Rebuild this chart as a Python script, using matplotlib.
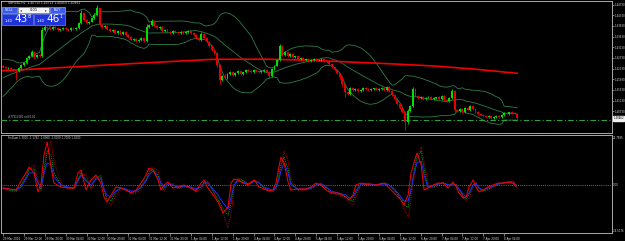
import numpy as np
import pandas as pd
import matplotlib
matplotlib.use("Agg")
import matplotlib.pyplot as plt
from matplotlib.patches import Rectangle

# GBPUSD H1, first visible bar 29 Mar 04:00, last bar 8 Apr 09:00
closes = [
    1.4239, 1.4235, 1.4235, 1.4231, 1.4228, 1.4224, 1.4235, 1.4246, 1.4254, 1.4273,
    1.4280, 1.4295, 1.4276, 1.4284, 1.4280, 1.4378, 1.4389, 1.4385, 1.4381, 1.4389,
    1.4385, 1.4378, 1.4381, 1.4385, 1.4381, 1.4378, 1.4385, 1.4381, 1.4385, 1.4404,
    1.4441, 1.4415, 1.4404, 1.4408, 1.4423, 1.4434, 1.4460, 1.4396, 1.4389, 1.4393,
    1.4381, 1.4374, 1.4378, 1.4366, 1.4374, 1.4363, 1.4370, 1.4359, 1.4351, 1.4340,
    1.4344, 1.4336, 1.4340, 1.4348, 1.4336, 1.4389, 1.4396, 1.4411, 1.4393, 1.4385,
    1.4389, 1.4374, 1.4378, 1.4370, 1.4366, 1.4374, 1.4370, 1.4366, 1.4370, 1.4366,
    1.4370, 1.4374, 1.4366, 1.4359, 1.4348, 1.4340, 1.4363, 1.4348, 1.4333, 1.4318,
    1.4303, 1.4291, 1.4246, 1.4190, 1.4205, 1.4198, 1.4213, 1.4220, 1.4209, 1.4216,
    1.4224, 1.4213, 1.4220, 1.4228, 1.4224, 1.4220, 1.4228, 1.4224, 1.4220, 1.4224,
    1.4228, 1.4220, 1.4205, 1.4231, 1.4243, 1.4265, 1.4318, 1.4284, 1.4295, 1.4280,
    1.4288, 1.4276, 1.4280, 1.4269, 1.4273, 1.4265, 1.4269, 1.4261, 1.4265, 1.4269,
    1.4265, 1.4265, 1.4269, 1.4261, 1.4258, 1.4250, 1.4239, 1.4228, 1.4216, 1.4201,
    1.4175, 1.4145, 1.4138, 1.4160, 1.4153, 1.4156, 1.4149, 1.4153, 1.4160, 1.4156,
    1.4153, 1.4156, 1.4160, 1.4153, 1.4156, 1.4160, 1.4153, 1.4164, 1.4149, 1.4134,
    1.4119, 1.4100, 1.4085, 1.4070, 1.4033, 1.4074, 1.4093, 1.4156, 1.4130, 1.4123,
    1.4126, 1.4119, 1.4123, 1.4126, 1.4119, 1.4123, 1.4126, 1.4119, 1.4130, 1.4115,
    1.4111, 1.4123, 1.4149, 1.4078, 1.4074, 1.4081, 1.4070, 1.4085, 1.4078, 1.4093,
    1.4081, 1.4070, 1.4063, 1.4059, 1.4055, 1.4051, 1.4055, 1.4048, 1.4051, 1.4055,
    1.4051, 1.4059, 1.4066, 1.4063, 1.4070, 1.4066, 1.4063, 1.40462,
]
first_open = 1.4243

# wick lengths in pips above / below the body
wick_up = [
    3, 2, 4, 3, 2, 3, 4, 5, 3, 4, 3, 6, 3, 4, 5, 11, 7, 4, 3, 5,
    3, 4, 2, 5, 3, 4, 3, 2, 4, 5, 11, 4, 3, 5, 4, 6, 11, 2, 4, 3,
    5, 3, 4, 2, 5, 3, 4, 3, 2, 4, 3, 5, 4, 3, 4, 10, 5, 8, 3, 4,
    3, 5, 2, 4, 3, 3, 4, 2, 3, 4, 3, 2, 4, 3, 5, 3, 6, 3, 2, 4,
    3, 4, 5, 3, 4, 6, 3, 4, 5, 3, 4, 3, 2, 4, 3, 3, 4, 2, 3, 4,
    3, 4, 5, 6, 4, 5, 7, 4, 5, 3, 4, 3, 2, 4, 3, 4, 3, 2, 3, 4,
    3, 4, 2, 3, 4, 3, 2, 4, 3, 2, 3, 4, 5, 3, 4, 3, 4, 3, 5, 3,
    4, 3, 2, 4, 3, 4, 3, 5, 3, 2, 3, 4, 3, 2, 4, 6, 5, 7, 4, 3,
    4, 3, 5, 3, 4, 3, 2, 4, 3, 5, 4, 3, 6, 4, 3, 4, 3, 5, 3, 4,
    3, 4, 3, 2, 3, 4, 3, 2, 3, 4, 3, 2, 4, 3, 2, 3, 4, 5,
]
wick_dn = [
    3, 4, 3, 2, 4, 34, 5, 3, 4, 3, 5, 4, 6, 3, 4, 2, 3, 4, 3, 4,
    4, 3, 5, 3, 2, 4, 3, 4, 3, 2, 3, 5, 4, 3, 2, 3, 2, 4, 5, 3,
    4, 3, 2, 5, 3, 4, 3, 4, 5, 3, 4, 3, 2, 4, 3, 3, 2, 3, 4, 5,
    3, 4, 3, 2, 4, 3, 3, 2, 4, 3, 2, 3, 4, 3, 4, 5, 3, 4, 5, 4,
    5, 4, 6, 15, 5, 4, 3, 5, 4, 3, 4, 3, 4, 3, 2, 3, 4, 3, 2, 3,
    4, 5, 6, 3, 3, 2, 3, 4, 3, 4, 3, 4, 3, 2, 3, 4, 3, 2, 4, 3,
    3, 2, 4, 3, 4, 3, 4, 5, 4, 6, 8, 19, 4, 3, 3, 4, 3, 2, 4, 3,
    3, 4, 3, 2, 3, 4, 3, 4, 3, 5, 4, 4, 5, 5, 30, 6, 4, 3, 4, 3,
    3, 4, 3, 2, 3, 4, 3, 2, 4, 3, 4, 3, 3, 8, 4, 3, 4, 3, 2, 4,
    3, 2, 4, 3, 3, 2, 3, 4, 3, 2, 3, 4, 3, 2, 4, 3, 2, 4,
]

# closes before the first visible bar (needed for the 20-bar bands)
warmup = [1.4140, 1.4133, 1.4150, 1.4160, 1.4155, 1.4172, 1.4183, 1.4195, 1.4190,
          1.4205, 1.4213, 1.4216, 1.4220, 1.4228, 1.4224, 1.4231, 1.4235, 1.4239, 1.4235]

# long moving average (red)
ma_bars = [0, 20, 40, 60, 80, 100, 115, 133, 150, 165, 180, 197]
ma_vals = [1.42253, 1.42358, 1.42467, 1.42575, 1.42677, 1.42684,
           1.42654, 1.42579, 1.42504, 1.42429, 1.42317, 1.42155]

price_ticks = [1.44730, 1.44330, 1.43930, 1.43530, 1.43130, 1.42730,
               1.42330, 1.41930, 1.41530, 1.41130, 1.40730]
bid = 1.40462
order_price = 1.40410

# oscillator sub-window
osc_bars = [0.0, 2.3, 5.0, 6.9, 8.8, 10.0, 11.9, 13.4, 14.6, 15.7, 16.9, 18.4, 19.5,
            22.2, 24.9, 27.2, 28.7, 29.9, 31.8, 33.7, 35.6, 37.5, 38.7, 39.8, 41.4,
            43.3, 45.2, 47.1, 49.0, 51.0, 52.9, 54.8, 55.9, 57.5, 59.4, 60.5, 61.7,
            63.2, 65.1, 67.0, 69.3, 72.0, 73.9, 75.9, 77.0, 78.5, 80.5, 82.4, 84.3,
            86.2, 87.4, 88.5, 90.0, 92.0, 93.9, 95.0, 96.2, 98.1, 100.0, 101.9, 103.4,
            104.6, 105.7, 106.5, 107.7, 109.2, 110.3, 113.0, 116.1, 118.0, 119.9,
            121.8, 123.8, 125.7, 128.4, 131.4, 132.6, 134.1, 135.2, 137.2, 140.2,
            142.9, 146.0, 147.9, 149.8, 151.3, 152.5, 153.6, 155.2, 156.3, 157.5,
            158.6, 160.2, 161.3, 162.8, 164.8, 166.7, 168.6, 170.5, 172.4, 173.6,
            174.7, 176.2, 177.4, 178.5, 180.1, 181.2, 182.4, 183.9, 185.8, 187.7,
            189.7, 191.6, 193.5, 195.4, 196.6]
osc_red = [-1.5, -2, -2.5, 2, 6, 9, 6, -3.5, 1, 15, 21.5, 9, 1,
           -1, -1.5, -1.5, 6, 7.5, -2.5, 2.5, 5, 1, -6, -8.5, -5,
           -1, -1.5, -2.5, -4, -2.5, 1, 5, 8.5, 7.5, 2.5, -2.5, 0,
           1.5, -1.5, -1, 0, -1.5, -3, 1, 2.5, -1.5, -5, -8.5, -14,
           -11, 1, 3, 2.5, 1, 0, 1.5, 2.5, -1, -2, -3, -2.5,
           1, 9, 14, 11, 1.5, -2.5, -2, -2, -1, 1,
           0, -2.5, -4, -4, -6, -7.5, -5, 0, 1, 0,
           0, 1, -1.5, -4, -6, -7.5, -10, -5, 6, 11.5,
           16, 10, -2.5, -1.5, 0, 1, 1, -1.5, 1.5, -1,
           -4, -6.5, -6, -1, 2.5, -1, -3.5, -2.5, -1, 0,
           1, 1, 1.5, 1, -1]
osc_blue = [-1.5, -2, -2.5, -1, 3, 6, 6, 1, -1, 6, 11, 10, 4,
            0, -1, -1.5, 2, 5, 2, 0, 3, 3, -2, -5, -6,
            -3, -1.5, -2, -3, -3, -1, 2, 5, 7, 4, 1, -1,
            0.5, 0, -1, -0.5, -1, -2, -1, 1, 1, -2, -5, -9,
            -12, -6, 0, 2, 1.5, 0.5, 1, 2, 1, -1, -2, -2.5,
            -1, 3, 7, 11, 6, 0, -2, -2, -1.5, 0,
            0.5, -1, -3, -4, -5, -6.5, -6, -3, 0.5, 0.5,
            0, 0.5, 0, -2, -4, -6, -8, -8, -2, 6,
            11, 12, 5, -1, -0.5, 0.5, 1, 0, 0.5, 0,
            -2, -4.5, -6, -4, 0, 0.5, -1.5, -2.5, -1.5, -0.5,
            0.5, 1, 1, 1, 0]
osc_green = [-1.5, -2.5, -3, 0, 4, 8, 8, 1, -2, 8, 17, 15, 6,
             0, -1.5, -1.5, 3, 6, 3, -1, 4, 4, -3, -7, -8,
             -3, -1.5, -2.5, -3.5, -3.5, -1, 3, 6, 8, 5, 0, -2,
             1, 0, -1.5, -0.5, -1.5, -2.5, -1, 1.5, 1, -3, -7, -12,
             -15, -9, 0, 3, 2, 0.5, 1, 2, 1, -1.5, -2.5, -3,
             -1.5, 5, 10, 14, 8, 1, -2.5, -2, -1.5, 0,
             0.5, -1.5, -3.5, -4.5, -6, -7.5, -8, -4, 0.5, 0.5,
             0, 1, 0, -2.5, -5, -7, -10, -11, -3, 7,
             14, 17, 8, -1, -1, 0.5, 1, 0, 0.5, 0,
             -2.5, -5.5, -7, -5, 0, 1, -2, -3, -2, -1,
             0.5, 1, 1.5, 1.5, 0]
osc_dred = [-2, -3, -3.5, -1, 3, 8, 10, 3, -3, 5, 16, 22, 12,
            1, -2, -2, 1, 6, 5, -2, 3, 5, -1, -8, -10,
            -5, -2, -2.5, -4, -4.5, -2, 2, 6, 9, 7, 2, -3,
            0, 1, -2, -1, -1.5, -3.5, -2, 1, 2, -3, -8, -14,
            -21.5, -14, -2, 3.5, 2.5, 1, 1, 2.5, 1.5, -2, -3, -3.5,
            -2, 2, 8, 17, 12, 3, -3, -2.5, -2, -0.5,
            1, -1, -4, -5, -7, -9, -10, -6, 0, 1,
            0, 1, 0.5, -2, -5, -8, -12, -16, -8, 4,
            12, 19, 12, 1, -1.5, 0, 1, 0.5, 0, 0.5,
            -2, -6, -8, -7, -1, 1.5, -1.5, -3.5, -2.5, -1,
            0, 1, 1.5, 2, 1]
osc_top, osc_bottom = "22.7585", "-24.5176"
osc_title = "FinDum 1.3000 -1.1742 -1.0900 -1.0000 1.7000 1.1000"

time_labels = ["29 Mar 2016", "29 Mar 12:00", "29 Mar 20:00", "30 Mar 04:00", "30 Mar 12:00",
               "30 Mar 20:00", "31 Mar 04:00", "31 Mar 12:00", "31 Mar 20:00", "1 Apr 04:00",
               "1 Apr 12:00", "1 Apr 20:00", "4 Apr 04:00", "4 Apr 12:00", "4 Apr 20:00",
               "5 Apr 04:00", "5 Apr 12:00", "5 Apr 20:00", "6 Apr 04:00", "6 Apr 12:00",
               "6 Apr 20:00", "7 Apr 04:00", "7 Apr 12:00", "7 Apr 20:00", "8 Apr 04:00"]
time_bars = list(range(0, 8 * len(time_labels), 8))

# ---------------------------------------------------------------
W, H = 625, 241
GRAY = "#A8A8A8"
TXT = "#D8D8D8"
FS = 1.9
fig = plt.figure(figsize=(W / 100, H / 100), dpi=100, facecolor="black")
ax = fig.add_axes([1 / W, 1 - 133 / H, 611 / W, 132 / H], facecolor="black")
ax2 = fig.add_axes([1 / W, 1 - 233 / H, 611 / W, 98 / H], facecolor="black", sharex=ax)

n = len(closes)
x = np.arange(n)
c = np.array(closes)
o = np.array([first_open] + closes[:-1])
hi = np.maximum(o, c) + np.array(wick_up) * 1e-4
lo = np.minimum(o, c) - np.array(wick_dn) * 1e-4
col = np.where(c >= o, "#00E000", "#E80000")

# bollinger bands 20, 2
s = pd.Series(warmup + closes)
mid = s.rolling(20).mean().to_numpy()[-n:]
sd = s.rolling(20).std(ddof=0).to_numpy()[-n:]
for band in (mid + 2 * sd, mid, mid - 2 * sd):
    ax.plot(x, band, color="#2E7D4A", lw=0.6, zorder=2)

ax.plot(ma_bars, ma_vals, color="#F00000", lw=1.2, zorder=3)

ax.vlines(x, lo, hi, colors=col, lw=0.6, zorder=4)
body = np.maximum(np.abs(c - o), 0.00006)
ax.bar(x, body, bottom=np.minimum(o, c), width=0.72, color=col, lw=0, zorder=5)

ax.axhline(order_price, color="#2FA040", lw=0.8, ls=(0, (5, 2, 1, 2)), zorder=3)
ax.text(2, order_price + 0.0004, "#77313180 sell 0.01", color="#C0C0C0",
        fontsize=FS, va="bottom", ha="left")

ax.set_xlim(-0.77, 233.3)
ax.set_ylim(1.39916, 1.44866)

ax.yaxis.tick_right()
ax.set_yticks(price_ticks)
ax.set_yticklabels(["%.5f" % p for p in price_ticks])
ax.tick_params(axis="y", colors=GRAY, labelcolor=TXT, labelsize=FS, length=1.2, width=0.5, pad=0.6)
ax.tick_params(axis="x", bottom=False, labelbottom=False)
for sp in ax.spines.values():
    sp.set_color(GRAY)
    sp.set_linewidth(0.7)

# bid label on price scale
ax.text(1.002, bid, "%.5f" % bid, transform=ax.get_yaxis_transform(), fontsize=FS,
        color="black", va="center", ha="left",
        bbox=dict(boxstyle="square,pad=0.15", fc="#F0F0F0", ec="#F0F0F0"))

# header and one-click panel
fig.text(8 / W, 1 - 3.5 / H, "GBPUSD,H1  1.40713 1.40713 1.40459 1.40462",
         color=TXT, fontsize=2.2, va="center", ha="left")


def box(x0, y0, w, h, fc, ec):
    fig.patches.append(Rectangle((x0 / W, 1 - (y0 + h) / H), w / W, h / H,
                                 transform=fig.transFigure, fc=fc, ec=ec, lw=0.5, zorder=10))


box(2, 7, 15, 6, "#3B5BEA", "#8FA6FF")
box(18, 7, 31, 6, "#F4F4F4", "#9A9A9A")
box(50, 7, 15, 6, "#3B5BEA", "#8FA6FF")
box(2, 13.5, 31, 11, "#1F33D6", "#6B82FF")
box(34, 13.5, 31, 11, "#1F33D6", "#6B82FF")
fig.text(9.5 / W, 1 - 10 / H, "SELL", color="white", fontsize=2.6, ha="center", va="center", zorder=11)
fig.text(57.5 / W, 1 - 10 / H, "BUY", color="white", fontsize=2.6, ha="center", va="center", zorder=11)
fig.text(33.5 / W, 1 - 10 / H, "0.01", color="black", fontsize=2.6, ha="center", va="center", zorder=11)
fig.text(20 / W, 1 - 10 / H, "\u25c2", color="#404040", fontsize=2.6, ha="left", va="center", zorder=11)
fig.text(47 / W, 1 - 10 / H, "\u25b8", color="#404040", fontsize=2.6, ha="right", va="center", zorder=11)
for x0, big, sup in ((2, "43", "8"), (34, "46", "1")):
    fig.text((x0 + 3) / W, 1 - 21 / H, "1.40", color="white", fontsize=2.6, ha="left", va="center", zorder=11)
    fig.text((x0 + 12) / W, 1 - 19.5 / H, big, color="white", fontsize=7.5, ha="left", va="center", zorder=11)
    fig.text((x0 + 25.5) / W, 1 - 16 / H, sup, color="white", fontsize=3.5, ha="left", va="center", zorder=11)

# oscillator
ax2.axhline(0, color="#909090", lw=0.6, ls=(0, (1, 1.5)), zorder=1)
ax2.plot(osc_bars, osc_dred, color="#B00000", lw=0.7, ls=(0, (1, 1)), zorder=2)
ax2.plot(osc_bars, osc_green, color="#00A000", lw=0.7, ls=(0, (1, 1)), zorder=3)
ax2.plot(osc_bars, osc_blue, color="#1A2CFF", lw=0.7, zorder=4)
ax2.plot(osc_bars, osc_red, color="#FF0000", lw=0.7, zorder=5)
ax2.set_ylim(-24, 25)
ax2.set_yticks([])
for sp in ax2.spines.values():
    sp.set_color(GRAY)
    sp.set_linewidth(0.7)
ax2.text(2, 23.5, osc_title, color=TXT, fontsize=FS, va="center", ha="left")
yt = ax2.get_yaxis_transform()
ax2.text(1.002, 24.5, osc_top, transform=yt, color=TXT, fontsize=FS, va="top", ha="left", clip_on=False)
ax2.text(1.002, 0, "0.00", transform=yt, color=TXT, fontsize=FS, va="center", ha="left", clip_on=False)
ax2.text(1.002, -23, osc_bottom, transform=yt, color=TXT, fontsize=FS, va="center", ha="left", clip_on=False)

ax2.set_xticks(time_bars)
ax2.set_xticklabels(time_labels, ha="left")
ax2.tick_params(axis="x", colors=GRAY, labelcolor=TXT, labelsize=2.0, length=2, width=0.5, pad=0.8)

fig.savefig("out.png", dpi=100, facecolor="black")
